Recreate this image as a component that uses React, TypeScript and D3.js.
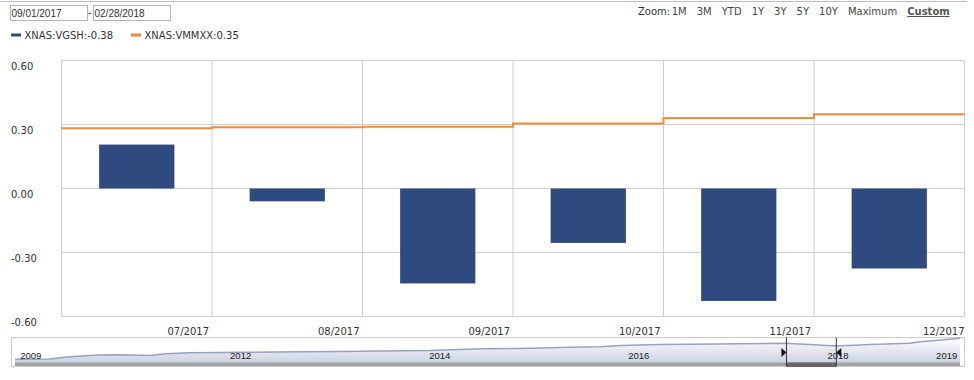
import React from "react";
import * as d3 from "d3";

// ---- data ----
const categories = ["2017-06", "2017-07", "2017-08", "2017-09", "2017-10", "2017-11"];
const vgshValues = [0.206, -0.06, -0.445, -0.255, -0.527, -0.375];
const vmmxxValues = [0.283, 0.287, 0.289, 0.305, 0.331, 0.348];
const xTickLabels = ["07/2017", "08/2017", "09/2017", "10/2017", "11/2017", "12/2017"];
const yTicks = [-0.6, -0.3, 0, 0.3, 0.6];
const legendItems = ["XNAS:VGSH:-0.38", "XNAS:VMMXX:0.35"];
const zoomButtons = ["1M", "3M", "YTD", "1Y", "3Y", "5Y", "10Y", "Maximum", "Custom"];
const dateInputs = ["09/01/2017", "02/28/2018"];

const navDates = [
  "2009-11-10", "2010-03-15", "2010-05-30", "2010-09-15", "2010-12-01", "2011-03-20",
  "2011-05-15", "2011-08-15", "2012-03-20", "2012-09-20", "2013-02-15", "2013-07-20",
  "2014-01-10", "2014-07-20", "2014-12-05", "2015-06-10", "2015-09-25", "2015-12-10",
  "2016-05-05", "2016-12-10", "2017-07-30", "2017-11-05", "2018-02-10", "2018-06-15",
  "2018-11-05", "2018-12-15", "2019-03-01", "2019-05-10",
];
const navValues = [
  6.7, 7.0, 9.3, 11.0, 11.3, 10.5, 12.3, 13.3, 13.7, 14.3, 14.5, 15.0,
  15.5, 17.3, 17.5, 18.7, 19.3, 20.5, 21.5, 22.0, 22.7, 21.5, 20.0, 21.5,
  22.7, 24.3, 26.0, 27.7,
];
const navLabels = ["2009", "2012", "2014", "2016", "2018", "2019"];
const navLabelDates = ["2009-11-22", "2012-01-01", "2014-01-01", "2016-01-01", "2018-01-01", "2019-02-04"];
const navRange = ["2017-08-11", "2018-02-10"];
const navDomain = ["2009-11-10", "2019-05-10"];

const W = 974;
const H = 380;
const FONT = "'DejaVu Sans', Verdana, sans-serif";
const BAR = "#2e4a7e";
const ORANGE = "#f08c3a";
const GRID = "#cfcfcf";

export default function App() {
  const plotL = 61.5, plotR = 964.5, plotT = 60.5, plotB = 316.5;
  const x = d3.scaleBand<string>().domain(categories).range([plotL, plotR]).padding(0);
  const y = d3.scaleLinear().domain([-0.6, 0.6]).range([plotB, plotT]);
  const bw = x.bandwidth() * 0.5;

  const stepPts: [number, number][] = categories.map((c, i) => [x(c)!, y(vmmxxValues[i])]);
  stepPts.push([plotR, y(vmmxxValues[vmmxxValues.length - 1])]);
  const stepLine = d3.line().curve(d3.curveStepAfter)(stepPts) || "";

  // navigator
  const parse = d3.timeParse("%Y-%m-%d");
  const nx = d3.scaleTime().domain(navDomain.map((d) => parse(d)!)).range([15, 960]);
  const ny = d3.scaleLinear().domain([0, 29]).range([366, 337]);
  const navPts = navDates.map((d, i) => ({ d: parse(d)!, v: navValues[i] }));
  const navArea = d3.area<{ d: Date; v: number }>().x((p) => nx(p.d)).y0(363).y1((p) => ny(p.v))(navPts) || "";
  const navLine = d3.line<{ d: Date; v: number }>().x((p) => nx(p.d)).y((p) => ny(p.v))(navPts) || "";
  const h0 = nx(parse(navRange[0])!);
  const h1 = nx(parse(navRange[1])!);

  const fmt = (v: number) => d3.format(".2f")(v).replace("\u2212", "-");
  const gridX = [...categories.map((c) => x(c)!), plotR];

  return (
    <svg width={W} height={H} style={{ position: "absolute", left: 0, top: 0, background: "#fff" }} fontFamily={FONT}>
      <defs>
        <linearGradient id="navGrad" x1="0" y1="0" x2="0" y2="1">
          <stop offset="0" stopColor="#fdfdfe" />
          <stop offset="1" stopColor="#cdd1e2" />
        </linearGradient>
      </defs>
      <line x1={0} x2={967} y1={1.5} y2={1.5} stroke="#bdbdbd" />

      {/* date inputs */}
      {dateInputs.map((t, i) => {
        const bx = i === 0 ? 10.5 : 93.5;
        return (
          <g key={t}>
            <rect x={bx} y={5.5} width={77} height={15} fill="#fff" stroke="#b5b5b5" />
            <text x={bx + 1} y={17.3} fontSize={10} fontFamily="'Liberation Sans', Arial, sans-serif" fill="#333">{t}</text>
          </g>
        );
      })}
      <text x={88} y={16} fontSize={10} fontFamily="'Liberation Sans', Arial, sans-serif" fill="#333">-</text>

      {/* zoom buttons */}
      <text x={638} y={15} fontSize={10} fill="#333">
        <tspan>Zoom:</tspan>
        {zoomButtons.map((b, i) => (
          <tspan key={b} dx={i === 0 ? 1.5 : 10}
            fill={b === "Custom" ? "#555" : "#444"}
            fontWeight={b === "Custom" ? "bold" : "normal"}
            textDecoration={b === "Custom" ? "underline" : "none"}
            style={b === "Custom" ? { textDecoration: "underline" } : undefined}>{b}</tspan>
        ))}
      </text>

      {/* legend */}
      {legendItems.map((t, i) => {
        const lx = i === 0 ? 11 : 131;
        return (
          <g key={t}>
            <line x1={lx} x2={lx + 10} y1={35} y2={35} stroke={i === 0 ? BAR : ORANGE} strokeWidth={3} />
            <text x={lx + 13.5} y={38.7} fontSize={10} fill="#333">{t}</text>
          </g>
        );
      })}

      {/* grid */}
      {yTicks.map((t) => (
        <line key={"gy" + t} x1={plotL} x2={plotR} y1={y(t)} y2={y(t)} stroke={GRID} />
      ))}
      {gridX.map((gx, i) => (
        <line key={"gx" + i} x1={gx} x2={gx} y1={plotT} y2={plotB} stroke={GRID} />
      ))}

      {/* y labels */}
      {yTicks.map((t) => (
        <text key={"yl" + t} x={11} y={y(t) + 9} fontSize={10} fill="#333">{fmt(t)}</text>
      ))}

      {/* x labels */}
      {xTickLabels.map((t, i) => {
        const gx = gridX[i + 1];
        return (
          <text key={t} x={i === xTickLabels.length - 1 ? gx : gx - 3} y={335.3} fontSize={10} fill="#333" textAnchor="end">{t}</text>
        );
      })}

      {/* bars */}
      {categories.map((c, i) => {
        const v = vgshValues[i];
        const y0 = y(0), y1 = y(v);
        return (
          <rect key={c} x={x(c)! + (x.bandwidth() - bw) / 2} y={Math.min(y0, y1)} width={bw}
            height={Math.abs(y1 - y0)} fill={BAR} />
        );
      })}

      {/* step line */}
      <path d={stepLine} fill="none" stroke={ORANGE} strokeWidth={2} />

      {/* navigator */}
      <rect x={11.5} y={337.5} width={953} height={29} fill="#fff" stroke="#cccccc" />
      <path d={navArea} fill="url(#navGrad)" />
      <path d={navLine} fill="none" stroke="#9aa0bf" strokeWidth={1.5} />
      <rect x={15} y={362.5} width={945} height={3.5} fill="#a3a3a3" />
      {navLabels.map((t, i) => {
        const lx = nx(parse(navLabelDates[i])!) + 2;
        return (
          <text key={t} x={lx} y={358.5} fontSize={9.5} fontFamily="'Liberation Sans', Arial, sans-serif" fill="#222">{t}</text>
        );
      })}
      <rect x={h0} y={362.5} width={h1 - h0} height={4.5} fill="#666" />
      <line x1={h0} x2={h0} y1={337.5} y2={366.5} stroke="#333" />
      <line x1={h1} x2={h1} y1={337.5} y2={366.5} stroke="#333" />
      <path d={`M${h0 - 5},348 L${h0},352.5 L${h0 - 5},357 Z`} fill="#111" />
      <path d={`M${h1 + 5},348 L${h1},352.5 L${h1 + 5},357 Z`} fill="#111" />
    </svg>
  );
}
